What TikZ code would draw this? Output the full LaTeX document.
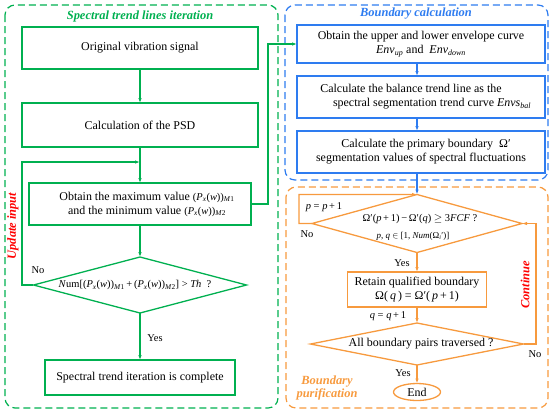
\documentclass[tikz,border=0pt]{standalone}
\usepackage{fontspec}
\setmainfont{Liberation Serif}
\usetikzlibrary{shapes.geometric,arrows.meta,calc}
\definecolor{cg}{HTML}{00B050}
\definecolor{cb}{HTML}{2E7CF0}
\definecolor{co}{HTML}{F79A3E}
\definecolor{cr}{HTML}{FF0000}
\newcommand\vi[1]{\textit{#1}}
\newcommand\sbx[1]{\textsubscript{#1}}
\newcommand\Pxw{\vi{P}\sbx{\vi{x}}(\vi{w})}
\newcommand\PM[1]{{\fontsize{10.5}{12}\selectfont(\Pxw)\sbx{\vi{M}#1}}}
\begin{document}
\begin{tikzpicture}[x=1bp,y=-1bp,
  every node/.style={inner sep=0pt,outer sep=0pt},
  font=\fontsize{12}{14}\selectfont,
  gbox/.style={draw=cg,line width=1.3bp,align=center},
  bbox/.style={draw=cb,line width=1.3bp,align=center},
  obox/.style={draw=co,line width=1.3bp,align=center},
  gdiam/.style={diamond,draw=cg,line width=1.3bp},
  odiam/.style={diamond,draw=co,line width=1.3bp},
  container/.style={line width=1.2bp,rounded corners=10bp,dash pattern=on 7bp off 4bp},
  arr/.style={-{Latex[length=5bp,width=3.5bp]},line width=1.3bp},
  ttl/.style={font=\fontsize{12.5}{14}\selectfont\bfseries\itshape},
  small/.style={font=\fontsize{10.5}{12}\selectfont},
  tiny/.style={font=\fontsize{9}{11}\selectfont}]
\useasboundingbox (0,0) rectangle (550,415);
% containers
\draw[container,cg] (5,5) rectangle (278,408);
\draw[container,cb] (285,5) rectangle (548,180);
\draw[container,co] (286,187) rectangle (548,408);
% titles
\node[ttl,text=cg] (tt1) at (140,16) {Spectral trend lines iteration};
\node[ttl,text=cb] (tt2) at (416,14) {Boundary calculation};
\node[ttl,text=cr,rotate=90] (ui) at (13,226) {Update input};
\node[ttl,text=cr,rotate=90] (cont) at (525,285) {Continue};
\node[ttl,text=co,align=center,font=\fontsize{12.5}{13.5}\selectfont\bfseries\itshape] (bp) at (327,388) {Boundary\\purification};
% left column
\node[gbox,minimum width=236bp,minimum height=42bp] (o1) at (140,48) {Original vibration signal};
\node[gbox,minimum width=236bp,minimum height=44bp] (o2) at (140,125) {Calculation of the PSD};
\node[gbox,minimum width=222bp,minimum height=42bp] (o3) at (140,204) {\hspace*{14bp}Obtain the maximum value \PM1\\\hspace*{14bp}and the minimum value \PM2};
\node[gdiam,minimum width=213bp,minimum height=56bp] (d1) at (140,285) {};
\node[small] (t1) at (135,285) {\vi{N}um[(\Pxw)\sbx{\vi{M}1}\,+\,(\Pxw)\sbx{\vi{M}2}] > \vi{Th}\ \ ?};
\node[gbox,minimum width=190bp,minimum height=35bp] (f1) at (140,377.5) {Spectral trend iteration is complete};
\node[small] (n1) at (38,270) {No};
\node[small] (y1) at (155,338) {Yes};
\coordinate (j1) at (140,162);
\coordinate (l1) at (22,162);
\coordinate (c1) at (268,44);
\draw[arr,cg] (o1) -- (o2);
\draw[arr,cg] (o2) -- (o3);
\draw[arr,cg] (o3) -- (d1);
\draw[arr,cg] (d1.west) -| (l1) -- (j1);
\draw[arr,cg] (d1.south) -- (f1.north);
% right top
\node[bbox,minimum width=248bp,minimum height=38bp] (b1) at (421,44) {Obtain the upper and lower envelope curve\\\vi{Env}\sbx{\vi{up}} and \ \vi{Env}\sbx{\vi{down}}};
\node[bbox,minimum width=248bp,minimum height=42bp] (b2) at (421,97) {Calculate the balance trend line as the\hspace*{20bp}\\\hspace*{22bp}spectral segmentation trend curve \vi{Envs}\sbx{\vi{bal}}};
\node[bbox,minimum width=248bp,minimum height=42bp] (b3) at (421,152) {\hspace*{10bp}Calculate the primary boundary \ Ω′\\segmentation values of spectral fluctuations};
\draw[arr,cg] (o3.east) -| (c1) -- (b1.west);
% right bottom
\node[odiam,minimum width=210bp,minimum height=58bp] (d2) at (417,223.5) {};
\node[small] (t2a) at (420,219) {Ω′(\vi{p}\,+\,1)\,−\,Ω′(\vi{q}) $\geq$ 3\vi{FCF} ?};
\node[tiny] (t2b) at (413,236) {\vi{p}, \vi{q} $\in$ [1, \vi{Num}(Ω\sbx{\vi{i}}′)]};
\node[small] (pp) at (324,207) {\vi{p} = \vi{p}\,+\,1};
\node[obox,minimum width=139bp,minimum height=35bp] (r1) at (417,289.5) {Retain qualified boundary\\Ω(\,\vi{q}\,) = Ω′(\,\vi{p}\,+\,1)};
\node[small] (qq) at (388,316) {\vi{q} = \vi{q}\,+\,1};
\node[odiam,minimum width=213bp,minimum height=42bp] (d3) at (417,344) {};
\node (t3) at (421,344) {All boundary pairs traversed ?};
\node[obox,ellipse,minimum width=47bp,minimum height=17bp] (e1) at (417,392) {End};
\node[small] (n2) at (307,234) {No};
\node[small] (y2) at (402,263) {Yes};
\node[small] (n3) at (535,354) {No};
\node[small] (y3) at (403,373) {Yes};
\coordinate (l2) at (299,194.5);
\coordinate (l3) at (536,344);
\draw[arr,cb] (b1.south -| d2.north) -- (b2.north -| d2.north);
\draw[arr,cb] (b2.south -| d2.north) -- (b3.north -| d2.north);
\draw[arr,cb] (b3.south -| d2.north) -- (d2.north);
\draw[arr,co] (d2.west) -| (l2) -- (d2.north);
\draw[arr,co] (d2.south) -- (r1.north);
\draw[arr,co] (r1.south) -- (d3.north);
\draw[arr,co] (d3.east) -- (l3) |- (d2.east);
\draw[arr,co] (d3.south) -- (e1.north);
\end{tikzpicture}
\end{document}
